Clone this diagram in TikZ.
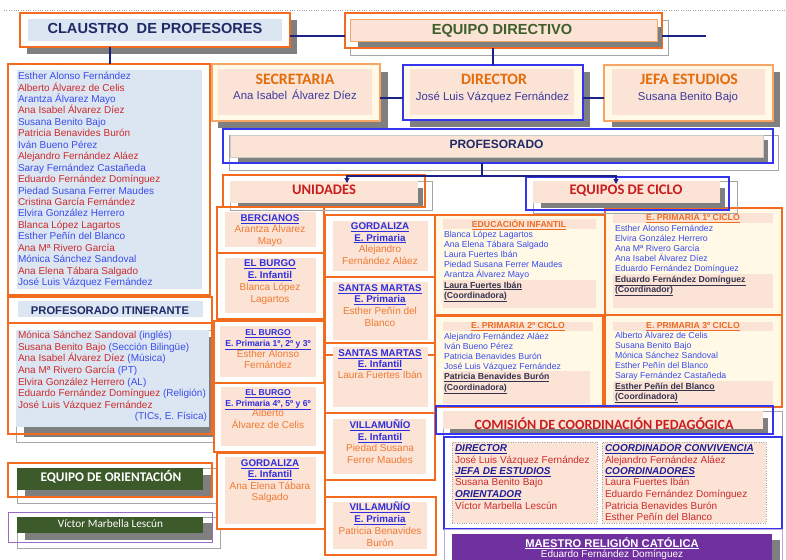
\documentclass[tikz,border=0pt]{standalone}
\usepackage{fontspec}
\setmainfont{Liberation Sans}
\newfontfamily\carl{Carlito}
\usetikzlibrary{arrows.meta}
\definecolor{orA}{HTML}{F26B1F}
\definecolor{orL}{HTML}{F7A467}
\definecolor{peach}{HTML}{FBE3D6}
\definecolor{lblue}{HTML}{DCE6F2}
\definecolor{cream}{HTML}{FFF9E6}
\definecolor{shd}{HTML}{7F7F7F}
\definecolor{golc}{HTML}{A6A6A6}
\definecolor{navy}{HTML}{1F2A66}
\definecolor{indg}{HTML}{3B3B9E}
\definecolor{tblue}{HTML}{3A4CEB}
\definecolor{tred}{HTML}{CC2B2B}
\definecolor{torg}{HTML}{F07A32}
\definecolor{hdor}{HTML}{E46C0A}
\definecolor{dgrn}{HTML}{3E5F2C}
\definecolor{gfill}{HTML}{3D5A2A}
\definecolor{purp}{HTML}{7030A0}
\definecolor{vpur}{HTML}{9A6CC8}
\definecolor{blA}{HTML}{3535F0}
\definecolor{ublue}{HTML}{2E2EDD}
\definecolor{ccol}{HTML}{33334D}
\definecolor{redh}{HTML}{C81E1E}
\definecolor{chor}{HTML}{EE6B22}
\definecolor{mnav}{HTML}{1E1E96}
\definecolor{cnav}{HTML}{1A2382}
\newcommand\Rect[6]{%
  \pgfmathsetmacro\Rw{#4-#2}%
  \pgfmathsetmacro\Rh{#5-#3}%
  \pgfmathsetmacro\Rcx{(#2+#4)/2}%
  \pgfmathsetmacro\Rcy{(#3+#5)/2}%
  \node[inner sep=0pt,outer sep=0pt,minimum width=\Rw pt,minimum height=\Rh pt,#6] (#1) at (\Rcx,\Rcy) {};%
}
\begin{document}
\begin{tikzpicture}[x=1pt,y=-1pt,
  sdw/.style={fill=shd,draw=none},
  gol/.style={draw=golc,line width=0.7pt},
  obx/.style={draw=orA,line width=1.6pt},
  olx/.style={draw=orL,line width=1.4pt},
  bbx/.style={draw=blA,line width=1.1pt},
  conn/.style={draw=cnav,line width=1.1pt},
  tipd/.style={-{Triangle[length=5pt,width=5pt]}},
  T/.style={inner sep=0pt,outer sep=0pt,anchor=base},
  Tw/.style={inner sep=0pt,outer sep=0pt,anchor=base west},
  Te/.style={inner sep=0pt,outer sep=0pt,anchor=base east},
  nm/.style={Tw,font=\fontsize{10}{12}\selectfont,yshift=-3.6pt},
  unm/.style={T,font=\fontsize{10}{12}\selectfont,yshift=-3.6pt,text=torg},
  uhd/.style={T,font=\fontsize{9.8}{12}\selectfont\bfseries,yshift=-3.5pt,text=ublue},
  uhs/.style={T,font=\fontsize{8.6}{10}\selectfont\bfseries,yshift=-3.1pt,text=ublue},
  cnm/.style={Tw,font=\fontsize{8.7}{10}\selectfont,yshift=-3.1pt,text=tblue},
  chd/.style={T,font=\fontsize{8.7}{10}\selectfont\bfseries,yshift=-3.1pt,text=chor},
  ccd/.style={Tw,font=\fontsize{8.7}{10}\selectfont\bfseries,yshift=-3.1pt,text=ccol},
  mhd/.style={Tw,font=\fontsize{10}{12}\selectfont\bfseries\itshape,yshift=-3.6pt,text=mnav},
  mnm/.style={Tw,font=\fontsize{10}{12}\selectfont,yshift=-3.6pt,text=tred},
  poshd/.style={T,font=\fontsize{15.8}{18}\carl\bfseries,yshift=-5pt,text=hdor},
  pnm/.style={T,font=\fontsize{11.4}{13}\selectfont,yshift=-4.1pt,text=indg},
  calh/.style={T,font=\fontsize{14.6}{17}\carl\bfseries,yshift=-4.7pt,text=redh}
]
\useasboundingbox (0,0) rectangle (786,559);
\fill[white] (0,0) rectangle (786,559);
\draw[golc,dotted] (4,10) -- (786,10);

% ---------- Claustro ----------
\Rect{clsh}{27}{20}{297}{54}{sdw}
\Rect{claustro}{20}{13}{290}{47}{obx,fill=white}
\Rect{clin}{28}{19}{282}{41}{fill=lblue}
\node[T,font=\fontsize{14.6}{17}\selectfont\bfseries,yshift=-5.2pt,text=navy] (cltxt) at (155,28) {CLAUSTRO~ DE PROFESORES};

% ---------- Equipo directivo ----------
\Rect{edgo}{350}{20}{668}{55}{gol}
\Rect{equipo}{345}{13}{662}{48}{obx,fill=white}
\Rect{edsh}{358}{27}{662}{47}{sdw}
\Rect{edin}{350}{19}{657}{41}{fill=peach,draw=orL,line width=0.8pt}
\node[T,font=\fontsize{14.6}{17}\selectfont\bfseries,yshift=-5.2pt,text=dgrn] (edtxt) at (502,29) {EQUIPO DIRECTIVO};

% ---------- Secretaria / Director / Jefa ----------
\Rect{secsh}{218}{72}{388}{128}{sdw}
\Rect{secretaria}{212}{64}{380}{121}{olx,fill=cream}
\Rect{secin}{218}{69}{372}{115}{fill=peach}
\node[poshd] (sect) at (295,79.3) {SECRETARIA};
\node[pnm] (secn) at (295,95.7) {Ana Isabel\, Álvarez Díez};

\Rect{dirsh}{410}{72}{590}{127}{sdw}
\Rect{director}{403}{65}{583}{120}{bbx,fill=cream}
\Rect{dirin}{410}{69}{574}{115}{fill=peach}
\node[poshd] (dirt) at (494,79.3) {DIRECTOR};
\node[pnm] (dirn) at (492.5,96.2) {José Luis Vázquez Fernández};

\Rect{jefsh}{612}{72}{780}{127}{sdw}
\Rect{jefa}{604}{65}{773}{121}{olx,fill=cream}
\Rect{jefin}{612}{69}{765}{115}{fill=peach}
\node[poshd] (jeft) at (689,79.3) {JEFA ESTUDIOS};
\node[pnm] (jefn) at (688,96.2) {Susana Benito Bajo};

% ---------- Profesorado ----------
\Rect{progo}{229}{135}{778}{170}{gol}
\Rect{prosh}{238}{140}{768}{162}{sdw}
\Rect{proin}{230}{135}{763}{157}{fill=peach,draw=golc!60,line width=0.5pt}
\Rect{prof}{223}{129}{773}{163}{bbx}
\node[T,font=\fontsize{12}{14}\selectfont\bfseries,yshift=-4.3pt,text=navy] (proft) at (496.5,144) {PROFESORADO};

% ---------- Left column ----------
\Rect{clist}{8}{64}{210}{295}{obx,fill=white}
\Rect{clistin}{17}{70}{202}{289}{fill=lblue}
\foreach \nm/\cl [count=\i from 0] in {Esther Alonso Fernández/tblue,Alberto Álvarez de Celis/tred,Arantza Álvarez Mayo/tblue,Ana Isabel Álvarez Díez/tred,Susana Benito Bajo/tblue,Patricia Benavides Burón/tred,Iván Bueno Pérez/tblue,Alejandro Fernández Aláez/tred,Saray Fernández Castañeda/tblue,Eduardo Fernández Domínguez/tred,Piedad Susana Ferrer Maudes/tblue,Cristina García Fernández/tred,Elvira González Herrero/tblue,Blanca López Lagartos/tred,Esther Peñín del Blanco/tblue,Ana Mª Rivero García/tred,Mónica Sánchez Sandoval/tblue,Ana Elena Tábara Salgado/tred,José Luis Vázquez Fernández/tblue}
  {\node[nm,text=\cl] (cl\i) at (18,{76+11.44*\i}) {\nm};}

\Rect{ithead}{8}{297}{212}{323}{obx,fill=white}
\Rect{ithin}{18}{301}{203}{317}{fill=lblue}
\node[T,font=\fontsize{11.2}{13}\selectfont\bfseries,yshift=-4pt,text=navy] (itt) at (110,310) {PROFESORADO ITINERANTE};

\Rect{itgo}{16}{330}{217}{442}{gol}
\Rect{itsh}{24}{337}{215}{437}{sdw}
\Rect{itin}{16}{330}{209}{427}{fill=lblue}
\Rect{itlist}{8}{323}{212}{434}{obx}
\foreach \nm/\rl [count=\i from 0] in {Mónica Sánchez Sandoval/(inglés),Susana Benito Bajo/(Sección Bilingüe),Ana Isabel Álvarez Díez/(Música),Ana Mª Rivero García/(PT),Elvira González Herrero/(AL),Eduardo Fernández Domínguez/(Religión),José Luis Vázquez Fernández/}
  {\node[nm,text=tred] (it\i) at (18,{335+11.6*\i}) {\nm\ \textcolor{tblue}{\rl}};}
\node[Te,font=\fontsize{10}{12}\selectfont,yshift=-3.6pt,text=tblue] (it7) at (207,416) {(TICs, E. Física)};

\Rect{orgo}{17}{468}{220}{503}{gol}
\Rect{orsh}{25}{475}{212}{497}{sdw}
\Rect{orin}{17}{468}{203}{490}{fill=gfill}
\Rect{orient}{8}{463}{212}{497}{obx}
\node[T,font=\fontsize{13.2}{15}\carl\bfseries,yshift=-4.2pt,text=white] (ort) at (111,477) {EQUIPO DE ORIENTACIÓN};

\Rect{vigo}{17}{517}{220}{548}{gol}
\Rect{vish}{25}{523}{212}{540}{sdw}
\Rect{viin}{17}{517}{203}{533}{fill=gfill}
\Rect{victor}{8}{512}{212}{542}{draw=vpur,line width=1pt}
\node[T,font=\fontsize{11.3}{13}\carl,yshift=-3.6pt,text=white] (vit) at (110.5,524) {Víctor Marbella Lescún};

% ---------- Unidades boxes ----------
\Rect{ub1}{217}{207}{324}{253}{obx,fill=white}
\Rect{ub1i}{225}{212}{316}{247}{fill=peach}
\Rect{ub2}{217}{253}{324}{319}{obx,fill=white}
\Rect{ub2i}{225}{258}{316}{313}{fill=peach}
\Rect{ub3}{214}{321}{324}{383}{obx,fill=white}
\Rect{ub3i}{220}{326}{316}{377}{fill=peach}
\Rect{ub4}{214}{383}{325}{452}{obx,fill=white}
\Rect{ub4i}{221}{387}{316}{446}{fill=peach}
\Rect{ub5}{217}{453}{325}{529}{obx,fill=white}
\Rect{ub5i}{225}{457}{316}{524}{fill=peach}
\Rect{ub6}{325}{215}{435}{277}{obx,fill=white}
\Rect{ub6i}{333}{221}{428}{271}{fill=peach}
\Rect{ub7}{325}{277}{435}{343}{obx,fill=white}
\Rect{ub7i}{333}{282}{428}{340}{fill=peach}
\Rect{ub8}{325}{343}{435}{413}{obx,fill=white}
\draw[obx] (ub8.west |- 0,355) -- (ub8.east |- 0,355);
\Rect{ub8i}{333}{347}{428}{407}{fill=peach}
\Rect{ub9}{325}{413}{435}{480}{obx,fill=white}
\Rect{ub9i}{333}{419}{426}{474}{fill=peach}
\Rect{ub10}{325}{497}{436}{555}{obx,fill=white}
\Rect{ub10i}{333}{502}{427}{549}{fill=peach}

\node[uhd] (u1a) at (270,218.3) {\underline{BERCIANOS}};
\node[unm] (u1b) at (270,229.3) {Arantza Álvarez};
\node[unm] (u1c) at (270,241) {Mayo};
\node[uhd] (u2a) at (270,263.3) {\underline{EL BURGO}};
\node[uhd] (u2b) at (270,275) {\underline{E. Infantil}};
\node[unm] (u2c) at (270,287.3) {Blanca López};
\node[unm] (u2d) at (270,299) {Lagartos};
\node[uhs] (u3a) at (268,332.3) {\underline{EL BURGO}};
\node[uhs] (u3b) at (268,343.3) {\underline{E. Primaria 1º, 2º y 3º}};
\node[unm] (u3c) at (268,354) {Esther Alonso};
\node[unm] (u3d) at (268,365) {Fernández};
\node[uhs] (u4a) at (268,392.7) {\underline{EL BURGO}};
\node[uhs] (u4b) at (268,403.3) {\underline{E. Primaria 4º, 5º y 6º}};
\node[unm] (u4c) at (268,413.3) {Alberto};
\node[unm] (u4d) at (268,425) {Álvarez de Celis};
\node[uhd] (u5a) at (270,462.7) {\underline{GORDALIZA}};
\node[uhd] (u5b) at (270,474) {\underline{E. Infantil}};
\node[unm] (u5c) at (270,486) {Ana Elena Tábara};
\node[unm] (u5d) at (270,497.3) {Salgado};
\node[uhd] (u6a) at (380,226) {\underline{GORDALIZA}};
\node[uhd] (u6b) at (380,237.7) {\underline{E. Primaria}};
\node[unm] (u6c) at (380,249.3) {Alejandro};
\node[unm] (u6d) at (380,261) {Fernández Aláez};
\node[uhd] (u7a) at (380,288.3) {\underline{SANTAS MARTAS}};
\node[uhd] (u7b) at (380,299.3) {\underline{E. Primaria}};
\node[unm] (u7c) at (380,311) {Esther Peñín del};
\node[unm] (u7d) at (380,322.7) {Blanco};
\node[uhd] (u8a) at (380,353.3) {\underline{SANTAS MARTAS}};
\node[uhd] (u8b) at (380,364) {\underline{E. Infantil}};
\node[unm] (u8c) at (380,375) {Laura Fuertes Ibán};
\node[uhd] (u9a) at (380,425) {\underline{VILLAMUÑÍO}};
\node[uhd] (u9b) at (380,436.7) {\underline{E. Infantil}};
\node[unm] (u9c) at (380,448.3) {Piedad Susana};
\node[unm] (u9d) at (380,460) {Ferrer Maudes};
\node[uhd] (u10a) at (380,507.3) {\underline{VILLAMUÑÍO}};
\node[uhd] (u10b) at (380,519) {\underline{E. Primaria}};
\node[unm] (u10c) at (380,531) {Patricia Benavides};
\node[unm] (u10d) at (380,542.7) {Burón};

% ---------- Cycle boxes ----------
\Rect{cy1}{435}{215}{605}{315}{obx,fill=cream}
\Rect{cy1h}{443}{219}{596}{229}{fill=peach}
\Rect{cy1c}{443}{280}{596}{308}{fill=peach}
\Rect{cy2}{605}{208}{782}{315}{obx,fill=cream}
\Rect{cy2h}{613}{213}{773}{223}{fill=peach}
\Rect{cy2c}{613}{274}{773}{308}{fill=peach}
\Rect{cy3}{435}{316}{603}{407}{obx,fill=cream}
\Rect{cy3h}{443}{322}{593}{331}{fill=peach}
\Rect{cy3c}{443}{371}{590}{404}{fill=peach}
\Rect{cy4}{605}{315}{782}{407}{obx,fill=cream}
\Rect{cy4h}{613}{322}{773}{331}{fill=peach}
\Rect{cy4c}{613}{381}{773}{407}{fill=peach}

\node[chd] (c1t) at (519,224.3) {\underline{EDUCACIÓN INFANTIL}};
\foreach \nm [count=\i from 0] in {Blanca López Lagartos,Ana Elena Tábara Salgado,Laura Fuertes Ibán,Piedad Susana Ferrer Maudes,Arantza Álvarez Mayo}
  {\node[cnm] (c1n\i) at (444,{234.3+10.1*\i}) {\nm};}
\node[ccd] (c1c) at (444,285) {\underline{Laura Fuertes Ibán}};
\node[ccd] (c1d) at (444,295) {\underline{(Coordinadora)}};

\node[chd] (c2t) at (693,217.7) {\underline{E. PRIMARIA 1º CICLO}};
\foreach \nm [count=\i from 0] in {Esther Alonso Fernández,Elvira González Herrero,Ana Mª Rivero García,Ana Isabel Álvarez Díez,Eduardo Fernández Domínguez}
  {\node[cnm] (c2n\i) at (615,{228.3+10*\i}) {\nm};}
\node[ccd] (c2c) at (615,279.3) {\underline{Eduardo Fernández Domínguez}};
\node[ccd] (c2d) at (615,289) {\underline{(Coordinador)}};

\node[chd] (c3t) at (518,325.7) {\underline{E. PRIMARIA 2º CICLO}};
\foreach \nm [count=\i from 0] in {Alejandro Fernández Aláez,Iván Bueno Pérez,Patricia Benavides Burón,José Luis Vázquez Fernández}
  {\node[cnm] (c3n\i) at (444,{336+10*\i}) {\nm};}
\node[ccd] (c3c) at (444,376.7) {\underline{Patricia Benavides Burón}};
\node[ccd] (c3d) at (444,387.3) {\underline{(Coordinadora)}};

\node[chd] (c4t) at (693,325.7) {\underline{E. PRIMARIA 3º CICLO}};
\foreach \nm [count=\i from 0] in {Alberto Álvarez de Celis,Susana Benito Bajo,Mónica Sánchez Sandoval,Esther Peñín del Blanco,Saray Fernández Castañeda}
  {\node[cnm] (c4n\i) at (615,{335+10.2*\i}) {\nm};}
\node[ccd] (c4c) at (615,386) {\underline{Esther Peñín del Blanco}};
\node[ccd] (c4d) at (615,396) {\underline{(Coordinadora)}};

% ---------- Section headers ----------
\Rect{unigo}{230}{181}{432}{210}{gol}
\Rect{unish}{238}{188}{423}{208}{sdw}
\Rect{uniin}{230}{181}{418}{203}{fill=peach}
\Rect{unidades}{223}{175}{425}{207}{obx}
\node[calh] (unit) at (324,190) {UNIDADES};

\Rect{cicgo}{533}{181}{737}{213}{gol}
\Rect{cicsh}{541}{188}{725}{208}{sdw}
\Rect{cicin}{533}{181}{720}{203}{fill=peach}
\Rect{ciclo}{526}{177}{729}{210}{bbx}
\node[calh] (cict) at (626,190) {EQUIPOS DE CICLO};

% ---------- Comision ----------
\Rect{comgo}{443}{411}{782}{437}{gol}
\Rect{comsh}{450}{418}{768}{434}{sdw}
\Rect{comin}{443}{411}{763}{429}{fill=peach}
\Rect{comision}{436}{406}{773}{434}{bbx}
\node[calh,font=\fontsize{14}{16}\carl\bfseries,yshift=-4.5pt] (comt) at (604,420) {COMISIÓN DE COORDINACIÓN PEDAGÓGICA};

\Rect{mem}{444}{437}{782}{529}{bbx,fill=white}
\Rect{meml}{452}{442}{597}{523}{fill=peach,draw=golc,dotted}
\Rect{memr}{602}{442}{766}{523}{fill=peach,draw=golc,dotted}
\node[mhd] (m1) at (455,448.3) {\underline{DIRECTOR}};
\node[mnm] (m2) at (455,460) {José Luis Vázquez Fernández};
\node[mhd] (m3) at (455,471) {\underline{JEFA DE ESTUDIOS}};
\node[mnm] (m4) at (455,482.3) {Susana Benito Bajo};
\node[mhd] (m5) at (455,494) {\underline{ORIENTADOR}};
\node[mnm] (m6) at (455,506) {Víctor Marbella Lescún};
\node[mhd] (r1) at (605,448.3) {\underline{COORDINADOR CONVIVENCIA}};
\node[mnm] (r2) at (605,460) {Alejandro Fernández Aláez};
\node[mhd] (r3) at (605,471) {\underline{COORDINADORES}};
\node[mnm] (r4) at (605,482.3) {Laura Fuertes Ibán};
\node[mnm] (r5) at (605,494) {Eduardo Fernández Domínguez};
\node[mnm] (r6) at (605,505.7) {Patricia Benavides Burón};
\node[mnm] (r7) at (605,517.3) {Esther Peñín del Blanco};

\Rect{maego}{444}{529}{782}{562}{draw=vpur!60,line width=0.7pt}
\Rect{maesh}{460}{540}{780}{562}{sdw}
\Rect{maestro}{452}{534}{772}{562}{fill=purp}
\node[T,font=\fontsize{11.2}{13}\selectfont\bfseries,yshift=-4pt,text=white] (mat) at (612,543) {\underline{MAESTRO RELIGIÓN CATÓLICA}};
\node[T,font=\fontsize{10}{12}\selectfont,yshift=-3.6pt,text=white] (man) at (612,554) {Eduardo Fernández Domínguez};

% ---------- Connectors ----------
\draw[conn] ([xshift=90pt]claustro.south west) -- ([xshift=90pt]claustro.south west |- clist.north);
\draw[conn] ([yshift=-6pt]claustro.east) -- ([yshift=-6pt]claustro.east -| equipo.west);
\coordinate (edr) at (706,36);
\draw[conn] (equipo.east |- edr) -- (edr);
\draw[conn] (equipo.south -| director.north) -- (director.north);
\draw[conn] ([yshift=-5.5pt]secretaria.east) -- ([yshift=-5.5pt]secretaria.east -| director.west);
\draw[conn] ([yshift=-5.5pt]director.east) -- ([yshift=-5.5pt]director.east -| jefa.west);
\coordinate (hub) at (482,176);
\coordinate (ua) at (347,183);
\coordinate (ca) at (616,184);
\draw[conn] (hub |- prof.south) -- (hub);
\draw[conn,tipd] (hub) -| (ua);
\draw[conn,tipd] (hub) -| (ca);
\end{tikzpicture}
\end{document}
